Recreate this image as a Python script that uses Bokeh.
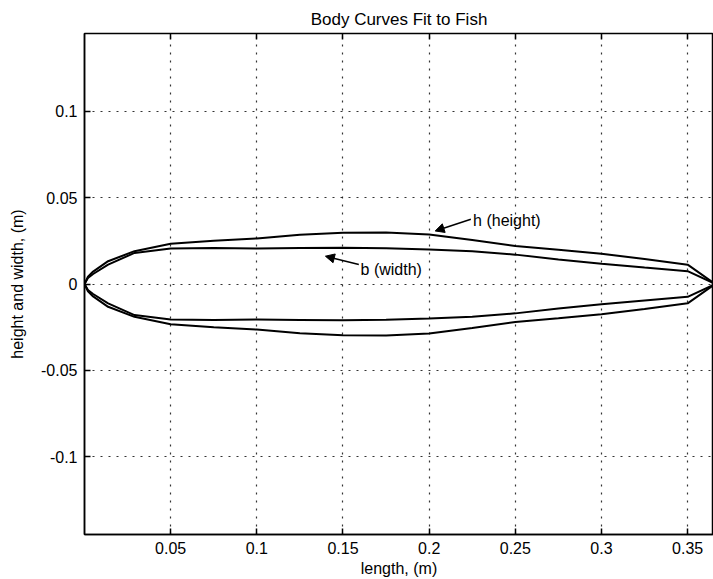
from bokeh.plotting import figure
from bokeh.models import Range1d, FixedTicker, LinearAxis, Label, Arrow, NormalHead
from bokeh.embed import file_html
from bokeh.resources import INLINE

# Body outline sampled along the fish length (m)
length_pos = [0.0, 0.002, 0.005, 0.0137, 0.029, 0.05, 0.075, 0.1, 0.125, 0.15, 0.175,
              0.2, 0.225, 0.25, 0.275, 0.3, 0.325, 0.35, 0.366]
# half-height h (m)
height_h = [0.0, 0.0042, 0.0072, 0.0132, 0.0190, 0.0233, 0.0250, 0.0264, 0.0285, 0.0297, 0.0298,
            0.0287, 0.0255, 0.0220, 0.0198, 0.0175, 0.0145, 0.0112, 0.0]
# half-width b (m)
width_b = [0.0, 0.0035, 0.0058, 0.0112, 0.0180, 0.0206, 0.0208, 0.0206, 0.0208, 0.0210, 0.0207,
           0.0200, 0.0190, 0.0170, 0.0142, 0.0117, 0.0095, 0.0074, 0.0]

x_ticks = [0.05, 0.1, 0.15, 0.2, 0.25, 0.3, 0.35]
x_tick_labels = ["0.05", "0.1", "0.15", "0.2", "0.25", "0.3", "0.35"]
y_ticks = [-0.1, -0.05, 0.0, 0.05, 0.1]
y_tick_labels = ["-0.1", "-0.05", "0", "0.05", "0.1"]

FONT = "Liberation Sans"

p = figure(width=713, height=579,
           x_range=Range1d(0, 0.365), y_range=Range1d(-0.145, 0.145),
           title="Body Curves Fit to Fish",
           output_backend="svg", toolbar_location=None,
           min_border_left=84, min_border_right=0,
           min_border_top=33, min_border_bottom=45)

p.background_fill_color = "white"
p.border_fill_color = "white"
p.outline_line_color = "black"
p.outline_line_width = 1.5

p.title.text_font = FONT
p.title.text_font_size = "17px"
p.title.text_font_style = "normal"
p.title.align = "center"
p.title.text_color = "black"

# Upper and lower halves of both outlines
for half in (height_h, width_b):
    p.line(length_pos, half, line_color="black", line_width=2)
    p.line(length_pos, [-v for v in half], line_color="black", line_width=2)

p.xaxis.ticker = FixedTicker(ticks=x_ticks)
p.yaxis.ticker = FixedTicker(ticks=y_ticks)
p.xaxis.major_label_overrides = dict(zip(x_ticks, x_tick_labels))
p.yaxis.major_label_overrides = dict(zip(y_ticks, y_tick_labels))
p.xaxis.axis_label = "length, (m)"
p.yaxis.axis_label = "height and width, (m)"

for ax in (p.xaxis, p.yaxis):
    ax.major_tick_in = 6
    ax.major_tick_out = 0
    ax.minor_tick_line_color = None
    ax.axis_line_color = "black"
    ax.axis_line_width = 1.5
    ax.major_tick_line_color = "black"
    ax.major_tick_line_width = 1.5
    ax.major_label_text_font = FONT
    ax.major_label_text_font_size = "16px"
    ax.major_label_text_color = "black"
    ax.axis_label_text_font = FONT
    ax.axis_label_text_font_size = "16px"
    ax.axis_label_text_font_style = "normal"
    ax.axis_label_text_color = "black"
    ax.major_label_standoff = 7
p.xaxis.axis_label_standoff = 3
p.yaxis.axis_label_standoff = 12

p.xgrid.ticker = FixedTicker(ticks=x_ticks)
p.ygrid.ticker = FixedTicker(ticks=y_ticks)
for g in (p.xgrid, p.ygrid):
    g.grid_line_color = "black"
    g.grid_line_width = 1.2
    g.grid_line_dash = "2 6"
    g.grid_line_alpha = 0.8

# Inward ticks along the top edge, without labels
top_axis = LinearAxis(ticker=FixedTicker(ticks=x_ticks), major_tick_in=6, major_tick_out=0,
                      major_label_overrides={t: "" for t in x_ticks},
                      major_label_standoff=0,
                      minor_tick_line_color=None, axis_line_color=None,
                      major_tick_line_color="black", major_tick_line_width=1.5)
p.add_layout(top_axis, "above")

# Curve annotations
head = dict(size=9, fill_color="black", line_color="black")
p.add_layout(Arrow(end=NormalHead(**head), x_start=0.2242, y_start=0.0375,
                   x_end=0.2035, y_end=0.0307, line_color="black", line_width=1.5))
p.add_layout(Label(x=0.2255, y=0.0367, text="h (height)", text_font=FONT,
                   text_font_size="16px", text_baseline="middle", text_color="black"))
p.add_layout(Arrow(end=NormalHead(**head), x_start=0.1592, y_start=0.0113,
                   x_end=0.1398, y_end=0.0161, line_color="black", line_width=1.5))
p.add_layout(Label(x=0.1602, y=0.0083, text="b (width)", text_font=FONT,
                   text_font_size="16px", text_baseline="middle", text_color="black"))

open("out.html", "w").write(file_html(p, INLINE))
